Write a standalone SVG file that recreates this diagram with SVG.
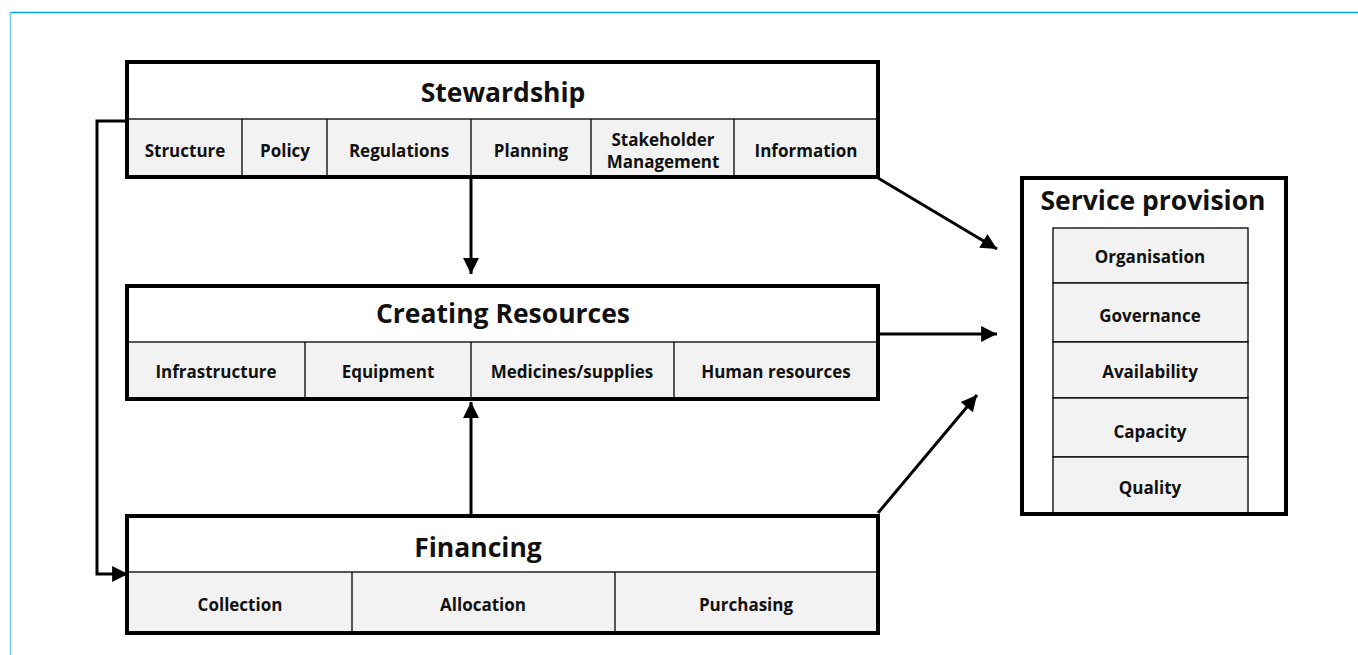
<svg xmlns="http://www.w3.org/2000/svg" width="1358" height="655" viewBox="0 0 1358 655">
<defs>
<style>
.frame{fill:none;stroke:#000;stroke-width:4}
.cell{fill:#F2F2F2;stroke:#000;stroke-width:1.3}
.hdr{fill:#fff}
.div{stroke:#000;stroke-width:1.3}
.t{font-family:"Open Sans","Liberation Sans",sans-serif;font-weight:bold;fill:#111;text-anchor:middle;dominant-baseline:central}
.big{font-size:26.5px}
.sm{font-size:17px}
.con{fill:none;stroke:#000;stroke-width:3}
</style>
<marker id="ah" viewBox="0 0 10 10" refX="10" refY="5" markerWidth="6.3" markerHeight="5.3" markerUnits="strokeWidth" orient="auto">
<path d="M0,0 L10,5 L0,10 Z" fill="#000"/>
</marker>
</defs>
<rect width="1358" height="655" fill="#fff"/>
<line x1="10" y1="12.5" x2="1358" y2="12.5" stroke="#00A2E8" stroke-width="1.5"/>
<line x1="10.5" y1="12" x2="10.5" y2="655" stroke="#66C8F5" stroke-width="1.5"/>

<g id="stewardship">
<rect class="hdr" x="127" y="62" width="751" height="57"/>
<rect class="cell" x="127" y="119" width="751" height="58"/>
<line class="div" x1="242" y1="119" x2="242" y2="177"/>
<line class="div" x1="327" y1="119" x2="327" y2="177"/>
<line class="div" x1="471" y1="119" x2="471" y2="177"/>
<line class="div" x1="591" y1="119" x2="591" y2="177"/>
<line class="div" x1="734" y1="119" x2="734" y2="177"/>
<rect class="frame" x="127" y="62" width="751" height="115"/>
<text class="t big" x="503" y="92">Stewardship</text>
<text class="t sm" x="185" y="150">Structure</text>
<text class="t sm" x="285" y="150">Policy</text>
<text class="t sm" x="399" y="150">Regulations</text>
<text class="t sm" x="531" y="150">Planning</text>
<text class="t sm" x="663" y="139">Stakeholder</text>
<text class="t sm" x="663" y="161">Management</text>
<text class="t sm" x="806" y="150">Information</text>
</g>

<g id="creating-resources">
<rect class="hdr" x="127" y="286" width="751" height="56"/>
<rect class="cell" x="127" y="342" width="751" height="57"/>
<line class="div" x1="305" y1="342" x2="305" y2="399"/>
<line class="div" x1="471" y1="342" x2="471" y2="399"/>
<line class="div" x1="674" y1="342" x2="674" y2="399"/>
<rect class="frame" x="127" y="286" width="751" height="113"/>
<text class="t big" x="503" y="313">Creating Resources</text>
<text class="t sm" x="216" y="371">Infrastructure</text>
<text class="t sm" x="388" y="371">Equipment</text>
<text class="t sm" x="572" y="371">Medicines/supplies</text>
<text class="t sm" x="776" y="371">Human resources</text>
</g>

<g id="financing">
<rect class="hdr" x="127" y="516" width="751" height="56"/>
<rect class="cell" x="127" y="572" width="751" height="61"/>
<line class="div" x1="352" y1="572" x2="352" y2="633"/>
<line class="div" x1="615" y1="572" x2="615" y2="633"/>
<rect class="frame" x="127" y="516" width="751" height="117"/>
<text class="t big" x="478" y="547">Financing</text>
<text class="t sm" x="240" y="604">Collection</text>
<text class="t sm" x="483" y="604">Allocation</text>
<text class="t sm" x="746" y="604">Purchasing</text>
</g>

<g id="service-provision">
<rect x="1022" y="178" width="264" height="336" fill="#fff" stroke="#000" stroke-width="4"/>
<rect class="cell" x="1053" y="228" width="195" height="55"/>
<rect class="cell" x="1053" y="283" width="195" height="59"/>
<rect class="cell" x="1053" y="342" width="195" height="56"/>
<rect class="cell" x="1053" y="398" width="195" height="59"/>
<rect class="cell" x="1053" y="457" width="195" height="57"/>
<rect x="1022" y="178" width="264" height="336" fill="none" stroke="#000" stroke-width="4"/>
<text class="t big" x="1153" y="200">Service provision</text>
<text class="t sm" x="1150" y="256">Organisation</text>
<text class="t sm" x="1150" y="315">Governance</text>
<text class="t sm" x="1150" y="371">Availability</text>
<text class="t sm" x="1150" y="431">Capacity</text>
<text class="t sm" x="1150" y="487">Quality</text>
</g>

<g id="connectors">
<line class="con" x1="471" y1="178" x2="471" y2="274" marker-end="url(#ah)"/>
<line class="con" x1="471" y1="514" x2="471" y2="402" marker-end="url(#ah)"/>
<line class="con" x1="878" y1="178" x2="997" y2="249" marker-end="url(#ah)"/>
<line class="con" x1="878" y1="334" x2="997" y2="334" marker-end="url(#ah)"/>
<line class="con" x1="878" y1="513" x2="977" y2="395" marker-end="url(#ah)"/>
<polyline class="con" points="127,121 97,121 97,574 128,574" marker-end="url(#ah)"/>
</g>
</svg>
